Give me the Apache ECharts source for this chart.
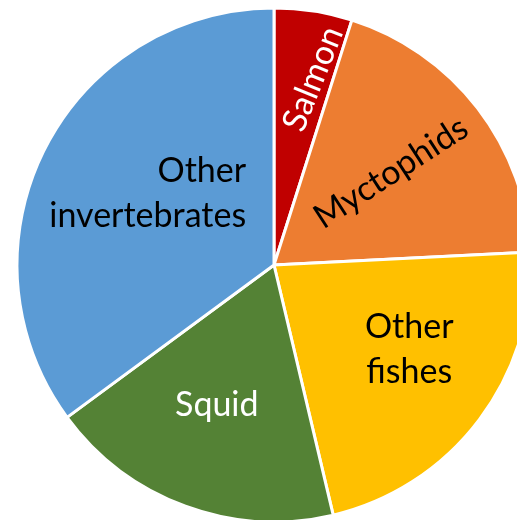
<!DOCTYPE html>
<html>
<head>
<meta charset="utf-8">
<script src="https://cdn.jsdelivr.net/npm/echarts@6/dist/echarts.min.js"></script>
<style>
  html, body { margin: 0; padding: 0; background: #ffffff; }
  #chart { width: 517px; height: 520px; }
</style>
</head>
<body>
<div id="chart"></div>
<script>
// Diet composition (% of total)
const categories = ['Salmon', 'Myctophids', 'Other fishes', 'Squid', 'Other invertebrates'];
const shares = [4.9, 19.3, 22.1, 18.6, 35.1];

// Styling per slice
const sliceColors = ['#C00000', '#ED7D31', '#FFC000', '#548235', '#5B9BD5'];
const labelColors = ['#ffffff', '#000000', '#000000', '#ffffff', '#000000'];
const labelTexts = ['Salmon', 'Myctophids', 'Other\nfishes', 'Squid', 'Other\ninvertebrates'];
const labelAligns = ['center', 'center', 'center', 'center', 'right'];
// label anchor: fraction of radius, angular shift (deg) from slice middle, rotation (deg)
const labelRadius = [0.74, 0.58, 0.62, 0.59, 0.30];
const labelShift = [3, -0.7, -5, 2, 42];
const labelRotate = [68, 33, 0, 0, 0];

const CX = 274, CY = 265, R = 257;

const total = shares.reduce((a, b) => a + b, 0);
const midAngles = [];
let acc = 0;
shares.forEach(v => {
  midAngles.push((acc + v / 2) / total * 360);
  acc += v;
});

const chart = echarts.init(document.getElementById('chart'), null, { renderer: 'canvas' });

chart.setOption({
  backgroundColor: '#ffffff',
  animation: false,
  series: [{
    type: 'pie',
    center: [CX, CY],
    radius: [0, R],
    startAngle: 90,
    clockwise: true,
    avoidLabelOverlap: false,
    itemStyle: { borderColor: '#ffffff', borderWidth: 3 },
    label: {
      show: true,
      position: 'inside',
      fontFamily: 'Lato',
      fontSize: 34,
      lineHeight: 45
    },
    labelLine: { show: false },
    labelLayout: function (params) {
      const i = params.dataIndex;
      const a = (midAngles[i] + labelShift[i]) * Math.PI / 180;
      const d = labelRadius[i] * R;
      return {
        x: CX + d * Math.sin(a),
        y: CY - d * Math.cos(a),
        rotate: labelRotate[i],
        align: labelAligns[i],
        verticalAlign: 'middle'
      };
    },
    data: categories.map((name, i) => ({
      name: name,
      value: shares[i],
      itemStyle: { color: sliceColors[i] },
      label: {
        formatter: labelTexts[i],
        color: labelColors[i],
        align: labelAligns[i]
      }
    }))
  }]
});
</script>
</body>
</html>
